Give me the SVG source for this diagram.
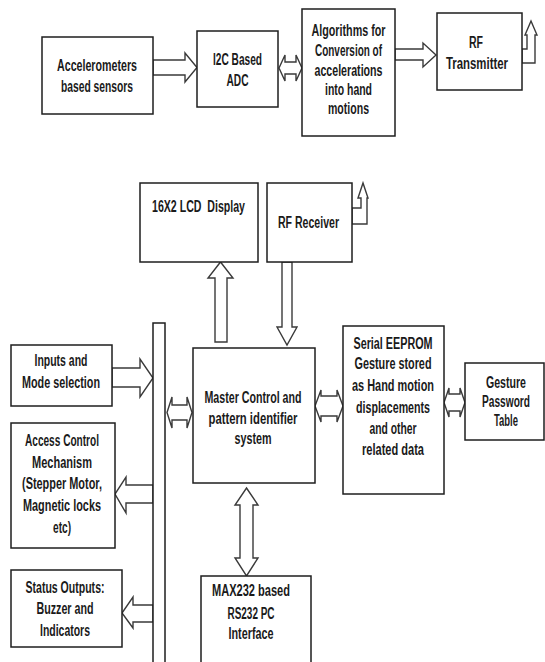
<svg xmlns="http://www.w3.org/2000/svg" width="545" height="662" viewBox="0 0 545 662">
<style>
.box{fill:#fff;stroke:#1e1e1e;stroke-width:1.5}
.arr{fill:#fff;stroke:#3a3a3a;stroke-width:1.4;stroke-linejoin:miter}
text{font-family:"Liberation Sans",Arial,sans-serif;font-size:16px;font-weight:bold;fill:#1a1a1a;text-anchor:middle;white-space:pre}
</style>
<rect width="545" height="662" fill="#fff"/>
<g id="connectors">
<path class="arr" d="M153,60 H185 V53 L197,67.5 L185,82 V75 H153 Z"/>
<path class="arr" d="M279,68 L285,55 V62 H296 V55 L302,68 L296,81 V74 H285 V81 Z"/>
<path class="arr" d="M395,49 H423 V43 L436,55 L423,67 V60 H395 Z"/>
<path class="arr" d="M522,63 H535 V35 H537 L531,21 L525,35 H527 V49 H522 Z"/>
<path class="arr" d="M352,224 H367 V198 H368 L363,183 L358,198 H361 V208 H352 Z"/>
<path class="arr" d="M215,342 V278 H208 L220.5,262 L233,278 H227 V342 Z"/>
<path class="arr" d="M282,262 V327 H277 L287,345 L297,327 H292 V262 Z"/>
<path class="arr" d="M112,368 H140 V359 L153,378 L140,397 V387 H112 Z"/>
<path class="arr" d="M167,412.5 L172,397 V405 H187 V397 L192,412.5 L187,428 V420 H172 V428 Z"/>
<path class="arr" d="M153,485 H126 V477 L115,494 L126,513 V503 H153 Z"/>
<path class="arr" d="M153,605 H133 V597 L122,613 L133,628 V622 H153 Z"/>
<path class="arr" d="M315,406 L321,390 V396 H337 V390 L343,406 L337,422 V416 H321 V422 Z"/>
<path class="arr" d="M444,402.5 L449,388 V394 H460 V388 L465,402.5 L460,417 V411 H449 V417 Z"/>
<path class="arr" d="M246.5,488 L258,505 H253 V558 H258 L246.5,576 L235,558 H240 V505 H235 Z"/>
</g>
<g id="bus"><rect class="box" x="153" y="323" width="12" height="345"/></g>
<g id="accel">
<rect class="box" x="42" y="37" width="111" height="77"/>
<text x="97" y="71" textLength="80" lengthAdjust="spacingAndGlyphs">Accelerometers</text>
<text x="97" y="92" textLength="72" lengthAdjust="spacingAndGlyphs">based sensors</text>
</g>
<g id="i2c">
<rect class="box" x="197" y="31" width="81" height="76"/>
<text x="237.5" y="65" textLength="49" lengthAdjust="spacingAndGlyphs">I2C Based</text>
<text x="237.5" y="86" textLength="22" lengthAdjust="spacingAndGlyphs">ADC</text>
</g>
<g id="algo">
<rect class="box" x="302" y="9" width="93" height="127"/>
<text x="348.5" y="36" textLength="74" lengthAdjust="spacingAndGlyphs">Algorithms for</text>
<text x="348.5" y="56" textLength="67" lengthAdjust="spacingAndGlyphs">Conversion of</text>
<text x="348.5" y="76" textLength="68" lengthAdjust="spacingAndGlyphs">accelerations</text>
<text x="348.5" y="95" textLength="47" lengthAdjust="spacingAndGlyphs">into hand</text>
<text x="348.5" y="114" textLength="41" lengthAdjust="spacingAndGlyphs">motions</text>
</g>
<g id="rftx">
<rect class="box" x="437" y="13" width="85" height="77"/>
<text x="476" y="48" textLength="14" lengthAdjust="spacingAndGlyphs">RF</text>
<text x="477" y="69" textLength="62" lengthAdjust="spacingAndGlyphs">Transmitter</text>
</g>
<g id="lcd">
<rect class="box" x="140" y="183" width="118" height="79"/>
<text x="198.5" y="212" textLength="93" lengthAdjust="spacingAndGlyphs">16X2 LCD  Display</text>
</g>
<g id="rfrx">
<rect class="box" x="267" y="183" width="85" height="79"/>
<text x="308.5" y="228" textLength="61" lengthAdjust="spacingAndGlyphs">RF Receiver</text>
</g>
<g id="inputs">
<rect class="box" x="11" y="345" width="101" height="61"/>
<text x="61" y="366" textLength="53" lengthAdjust="spacingAndGlyphs">Inputs and</text>
<text x="61" y="388" textLength="78" lengthAdjust="spacingAndGlyphs">Mode selection</text>
</g>
<g id="access">
<rect class="box" x="11" y="423" width="104" height="125"/>
<text x="62" y="446" textLength="74" lengthAdjust="spacingAndGlyphs">Access Control</text>
<text x="62" y="468" textLength="60" lengthAdjust="spacingAndGlyphs">Mechanism</text>
<text x="62" y="489" textLength="80" lengthAdjust="spacingAndGlyphs">(Stepper Motor,</text>
<text x="62" y="511" textLength="78" lengthAdjust="spacingAndGlyphs">Magnetic locks</text>
<text x="62" y="533" textLength="18" lengthAdjust="spacingAndGlyphs">etc)</text>
</g>
<g id="status">
<rect class="box" x="11" y="570" width="111" height="77"/>
<text x="65" y="593" textLength="79" lengthAdjust="spacingAndGlyphs">Status Outputs:</text>
<text x="65" y="614" textLength="57" lengthAdjust="spacingAndGlyphs">Buzzer and</text>
<text x="65" y="636" textLength="50" lengthAdjust="spacingAndGlyphs">Indicators</text>
</g>
<g id="master">
<rect class="box" x="193" y="348" width="122" height="135"/>
<text x="253" y="403" textLength="97" lengthAdjust="spacingAndGlyphs">Master Control and</text>
<text x="253" y="424" textLength="89" lengthAdjust="spacingAndGlyphs">pattern identifier</text>
<text x="253" y="444" textLength="37" lengthAdjust="spacingAndGlyphs">system</text>
</g>
<g id="eeprom">
<rect class="box" x="343" y="326" width="101" height="168"/>
<text x="393" y="349" textLength="79" lengthAdjust="spacingAndGlyphs">Serial EEPROM</text>
<text x="393" y="369" textLength="77" lengthAdjust="spacingAndGlyphs">Gesture stored</text>
<text x="393" y="391" textLength="82" lengthAdjust="spacingAndGlyphs">as Hand motion</text>
<text x="393" y="413" textLength="74" lengthAdjust="spacingAndGlyphs">displacements</text>
<text x="393" y="434" textLength="47" lengthAdjust="spacingAndGlyphs">and other</text>
<text x="393" y="455" textLength="62" lengthAdjust="spacingAndGlyphs">related data</text>
</g>
<g id="gesture">
<rect class="box" x="465" y="363" width="79" height="77"/>
<text x="506" y="388" textLength="40" lengthAdjust="spacingAndGlyphs">Gesture</text>
<text x="506" y="407" textLength="48" lengthAdjust="spacingAndGlyphs">Password</text>
<text x="506" y="426" textLength="24" lengthAdjust="spacingAndGlyphs">Table</text>
</g>
<g id="max232">
<rect class="box" x="201" y="576" width="110" height="92"/>
<text x="251" y="596" textLength="78" lengthAdjust="spacingAndGlyphs">MAX232 based</text>
<text x="251" y="619" textLength="47" lengthAdjust="spacingAndGlyphs">RS232 PC</text>
<text x="251" y="639" textLength="45" lengthAdjust="spacingAndGlyphs">Interface</text>
</g>
</svg>
